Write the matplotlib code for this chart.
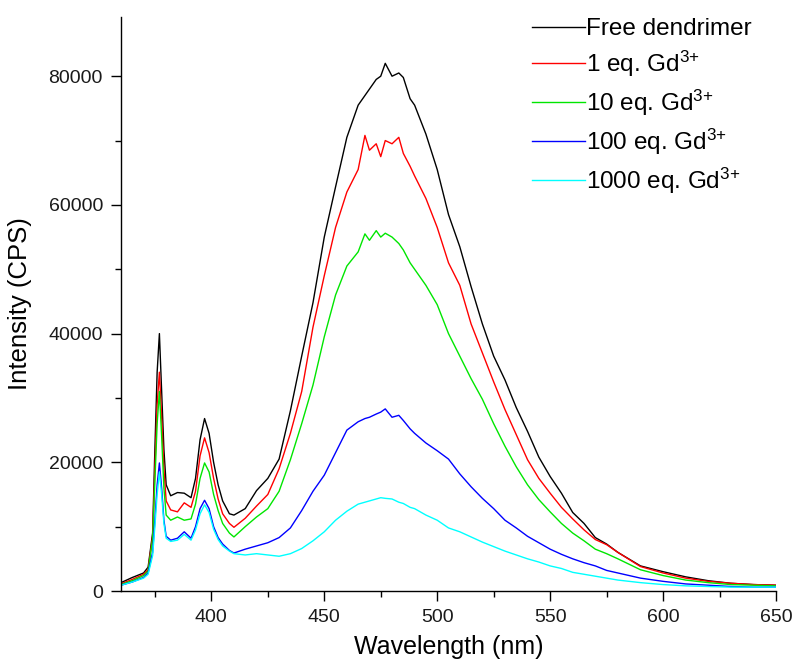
import matplotlib
matplotlib.use("Agg")
import matplotlib.pyplot as plt
from matplotlib.ticker import MultipleLocator

plt.rcParams['font.family'] = ['Liberation Sans', 'DejaVu Sans']
plt.rcParams['mathtext.fontset'] = 'custom'
plt.rcParams['mathtext.rm'] = 'Liberation Sans'
plt.rcParams['mathtext.it'] = 'Liberation Sans'
plt.rcParams['mathtext.default'] = 'regular'

wavelength = [360, 365, 370, 372, 374, 375, 376, 377, 378, 379,
              380, 382, 385, 388, 391, 393, 395, 397, 399, 401,
              403, 405, 408, 410, 415, 420, 425, 430, 435, 440,
              445, 450, 455, 460, 465, 468, 470, 473, 475, 477,
              480, 483, 485, 488, 490, 495, 500, 505, 510, 515,
              520, 525, 530, 535, 540, 545, 550, 555, 560, 565,
              570, 575, 580, 590, 600, 610, 620, 630, 640, 650]

free_dendrimer = [1300, 2100, 2800, 3700, 9000, 22000, 34000, 40000, 31000, 22000,
                  16500, 14800, 15300, 15200, 14500, 17500, 23500, 26800, 24500, 20000,
                  16500, 14000, 12000, 11800, 12800, 15600, 17500, 20500, 28000, 36500,
                  44800, 55000, 62800, 70500, 75500, 77000, 78000, 79500, 80000, 82000,
                  80000, 80500, 79800, 76500, 75500, 71000, 65500, 58500, 53500, 47300,
                  41500, 36500, 32800, 28500, 24800, 20800, 17800, 15200, 12200, 10500,
                  8300, 7300, 6000, 3900, 3000, 2200, 1600, 1200, 1000, 900]

eq1 = [1100, 1800, 2600, 3300, 8500, 19000, 29000, 34000, 27000, 19000,
       14000, 12600, 12300, 13700, 13000, 15500, 21000, 23800, 21500, 17500,
       14300, 12000, 10500, 9900, 11300, 13200, 15000, 19000, 24500, 31000,
       41000, 49000, 56500, 62000, 65500, 70800, 68500, 69500, 67500, 70000,
       69500, 70500, 68000, 66000, 64500, 61000, 56500, 51000, 47500, 41500,
       37000, 32500, 28200, 24300, 20400, 17500, 15200, 13000, 11200, 9500,
       8000, 7200, 6000, 3800, 2800, 2000, 1500, 1200, 1000, 900]

eq10 = [1000, 1600, 2400, 3100, 8000, 17000, 26000, 31000, 24000, 16000,
        11800, 11000, 11500, 11000, 11200, 13500, 17500, 19900, 18500, 15000,
        12500, 10500, 9000, 8400, 10000, 11500, 12800, 15500, 20400, 26000,
        32000, 39500, 46000, 50500, 52700, 55500, 54500, 56000, 55000, 55600,
        55000, 54000, 53000, 51000, 50000, 47500, 44500, 40000, 36500, 33000,
        29800, 26000, 22500, 19300, 16500, 14200, 12300, 10500, 9000, 7800,
        6500, 5800, 5000, 3300, 2400, 1700, 1300, 1000, 900, 800]

eq100 = [900, 1400, 2100, 2800, 6000, 11000, 16500, 19900, 16000, 11000,
         8500, 7900, 8200, 9200, 8200, 10000, 12800, 14100, 12800, 10000,
         8300, 7300, 6300, 5900, 6500, 7000, 7500, 8300, 9800, 12500,
         15500, 18000, 21500, 25000, 26300, 26800, 27000, 27500, 27800, 28300,
         27000, 27300, 26500, 25200, 24500, 23000, 21800, 20500, 18200, 16200,
         14400, 12800, 11000, 9800, 8500, 7500, 6500, 5700, 5000, 4400,
         3900, 3200, 2800, 2000, 1500, 1100, 900, 700, 600, 600]

eq1000 = [900, 1400, 2000, 2600, 5500, 10000, 15000, 18500, 15000, 10500,
          8200, 7700, 7900, 8800, 7900, 9500, 12000, 13400, 12200, 9600,
          8000, 7000, 6200, 5800, 5600, 5800, 5600, 5400, 5800, 6600,
          7800, 9200, 11000, 12400, 13500, 13800, 14000, 14300, 14500, 14400,
          14300, 13800, 13600, 13000, 12800, 11800, 11000, 9800, 9200, 8400,
          7600, 6900, 6200, 5600, 5000, 4500, 3900, 3500, 2900, 2600,
          2300, 2000, 1700, 1300, 1000, 800, 700, 600, 600, 600]

labels = ["Free dendrimer", "1 eq. Gd$^{3{+}}$", "10 eq. Gd$^{3{+}}$",
          "100 eq. Gd$^{3{+}}$", "1000 eq. Gd$^{3{+}}$"]
colors = ["#000000", "#ff0000", "#00e600", "#0000ff", "#00ffff"]
series = [free_dendrimer, eq1, eq10, eq100, eq1000]

W, H = 794, 661
fig = plt.figure(figsize=(W / 100, H / 100), dpi=100)
ax = fig.add_axes([121 / W, 1 - 591 / H, (776 - 121) / W, (591 - 17) / H])

for ys, c, lab in zip(series, colors, labels):
    ax.plot(wavelength, ys, color=c, lw=1.0, label=lab)

ax.set_xlim(360, 650)
ax.set_ylim(0, 89200)
ax.xaxis.set_major_locator(MultipleLocator(50))
ax.xaxis.set_minor_locator(MultipleLocator(25))
ax.yaxis.set_major_locator(MultipleLocator(20000))
ax.yaxis.set_minor_locator(MultipleLocator(10000))
for s in ['top', 'right']:
    ax.spines[s].set_visible(False)
for s in ['left', 'bottom']:
    ax.spines[s].set_linewidth(1.0)
ax.tick_params(axis='both', which='major', direction='out', length=7, width=1.0,
               labelsize=14, pad=6, labelcolor='#1a1a1a')
ax.tick_params(axis='both', which='minor', direction='out', length=4, width=1.0)

ax.set_xlabel("Wavelength (nm)", fontsize=18)
ax.set_ylabel("Intensity (CPS)", fontsize=18.5)
ax.xaxis.set_label_coords(0.5, -(647 - 591) / (591 - 17), transform=ax.transAxes)
ax.xaxis.label.set_va('center')
ax.yaxis.set_label_coords(-(121 - 20) / (776 - 121), 0.5, transform=ax.transAxes)
ax.yaxis.label.set_va('center')

leg = ax.legend(loc='upper left', bbox_to_anchor=(532 / W, 1 - 18 / H),
                bbox_transform=fig.transFigure, frameon=False, fontsize=17.5,
                handlelength=2.2, handletextpad=0.04, borderpad=0,
                borderaxespad=0, labelspacing=0.36)

fig.savefig("out.png", dpi=100)
